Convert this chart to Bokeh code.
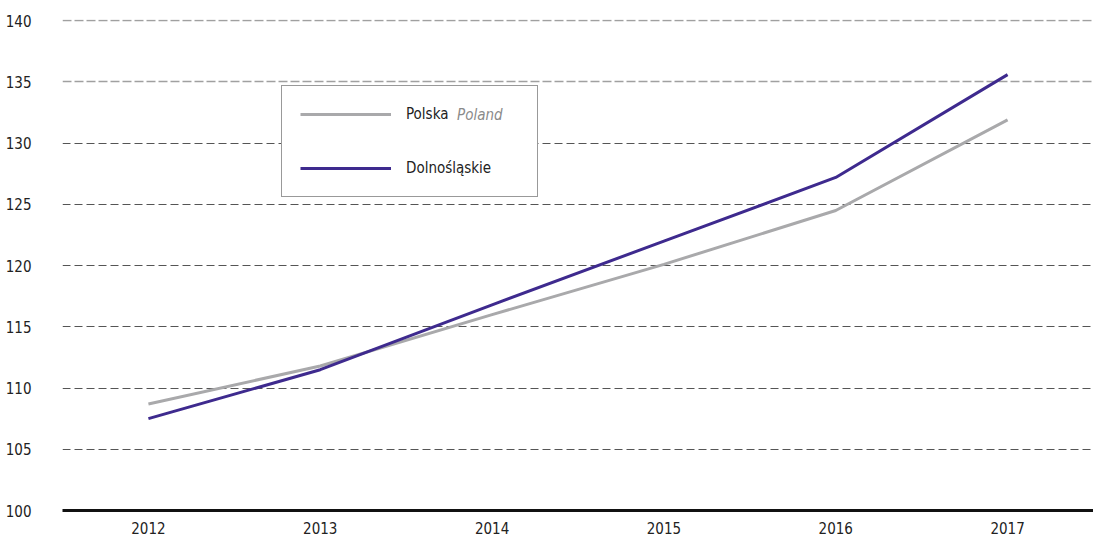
from bokeh.plotting import figure
from bokeh.models import (FactorRange, Range1d, FixedTicker, Grid, Legend, LegendItem)
from bokeh.embed import file_html
from bokeh.resources import INLINE

years = ["2012", "2013", "2014", "2015", "2016", "2017"]
polska = [108.7, 111.8, 116.0, 120.1, 124.5, 131.9]
dolnoslaskie = [107.5, 111.5, 116.8, 122.0, 127.2, 135.6]
y_ticks = [100, 105, 110, 115, 120, 125, 130, 135, 140]
dark_grid_ticks = [105, 110, 115, 120, 125, 130]
light_grid_ticks = [135, 140]

FONT = "DejaVu Sans Condensed"
GRAY = "#a9a9ab"
PURPLE = "#3e2a8e"

p = figure(width=1093, height=536, x_range=FactorRange(*years, range_padding=0),
           y_range=Range1d(100, 140.1), output_backend="svg", toolbar_location=None,
           min_border_left=62, min_border_top=19, min_border_right=0, min_border_bottom=20)
p.outline_line_color = None
p.background_fill_color = "white"

# grids
p.xgrid.visible = False
p.ygrid.visible = False
g1 = Grid(dimension=1, ticker=FixedTicker(ticks=dark_grid_ticks), grid_line_color="#555555",
          grid_line_dash="8 4", grid_line_width=1)
g2 = Grid(dimension=1, ticker=FixedTicker(ticks=light_grid_ticks), grid_line_color="#a0a0a0",
          grid_line_dash="9 3", grid_line_width=1.6)
p.add_layout(g1)
p.add_layout(g2)

# axes
p.yaxis.ticker = FixedTicker(ticks=y_ticks)
p.yaxis.axis_line_color = None
p.yaxis.major_tick_line_color = None
p.yaxis.minor_tick_line_color = None
p.yaxis.major_label_standoff = 25
p.yaxis.major_label_text_font = FONT
p.yaxis.major_label_text_font_size = "15px"
p.yaxis.major_label_text_color = "#222222"

p.xaxis.axis_line_color = "#111111"
p.xaxis.axis_line_width = 3
p.xaxis.major_tick_line_color = None
p.xaxis.minor_tick_line_color = None
p.xaxis.major_label_standoff = 5
p.xaxis.major_label_text_font = FONT
p.xaxis.major_label_text_font_size = "15px"
p.xaxis.major_label_text_color = "#222222"

r1 = p.line(years, polska, line_color=GRAY, line_width=3)
r2 = p.line(years, dolnoslaskie, line_color=PURPLE, line_width=3)

legend = Legend(items=[LegendItem(label="Polska", renderers=[r1]),
                       LegendItem(label="Dolnośląskie", renderers=[r2])],
                location=(219, 313), padding=18, spacing=34, glyph_width=91, glyph_height=20,
                label_height=20, label_width=113, label_standoff=15,
                label_text_font=FONT, label_text_font_size="15px", label_text_color="#222222",
                border_line_color="#333333", border_line_width=1,
                background_fill_color="white", background_fill_alpha=1.0,
                margin=0)
p.add_layout(legend, "center")

# English name next to "Polska", in italic grey (a second, frameless legend row)
legend_en = Legend(items=[LegendItem(label="Poland", renderers=[r1])],
                   location=(395, 385), padding=0, spacing=0, glyph_width=0, glyph_height=20,
                   label_height=20, label_standoff=0,
                   label_text_font=FONT, label_text_font_size="15px",
                   label_text_font_style="italic", label_text_color="#8a8a8a",
                   border_line_alpha=0, background_fill_alpha=0, margin=0)
p.add_layout(legend_en, "center")

open("out.html", "w").write(file_html(p, INLINE))
